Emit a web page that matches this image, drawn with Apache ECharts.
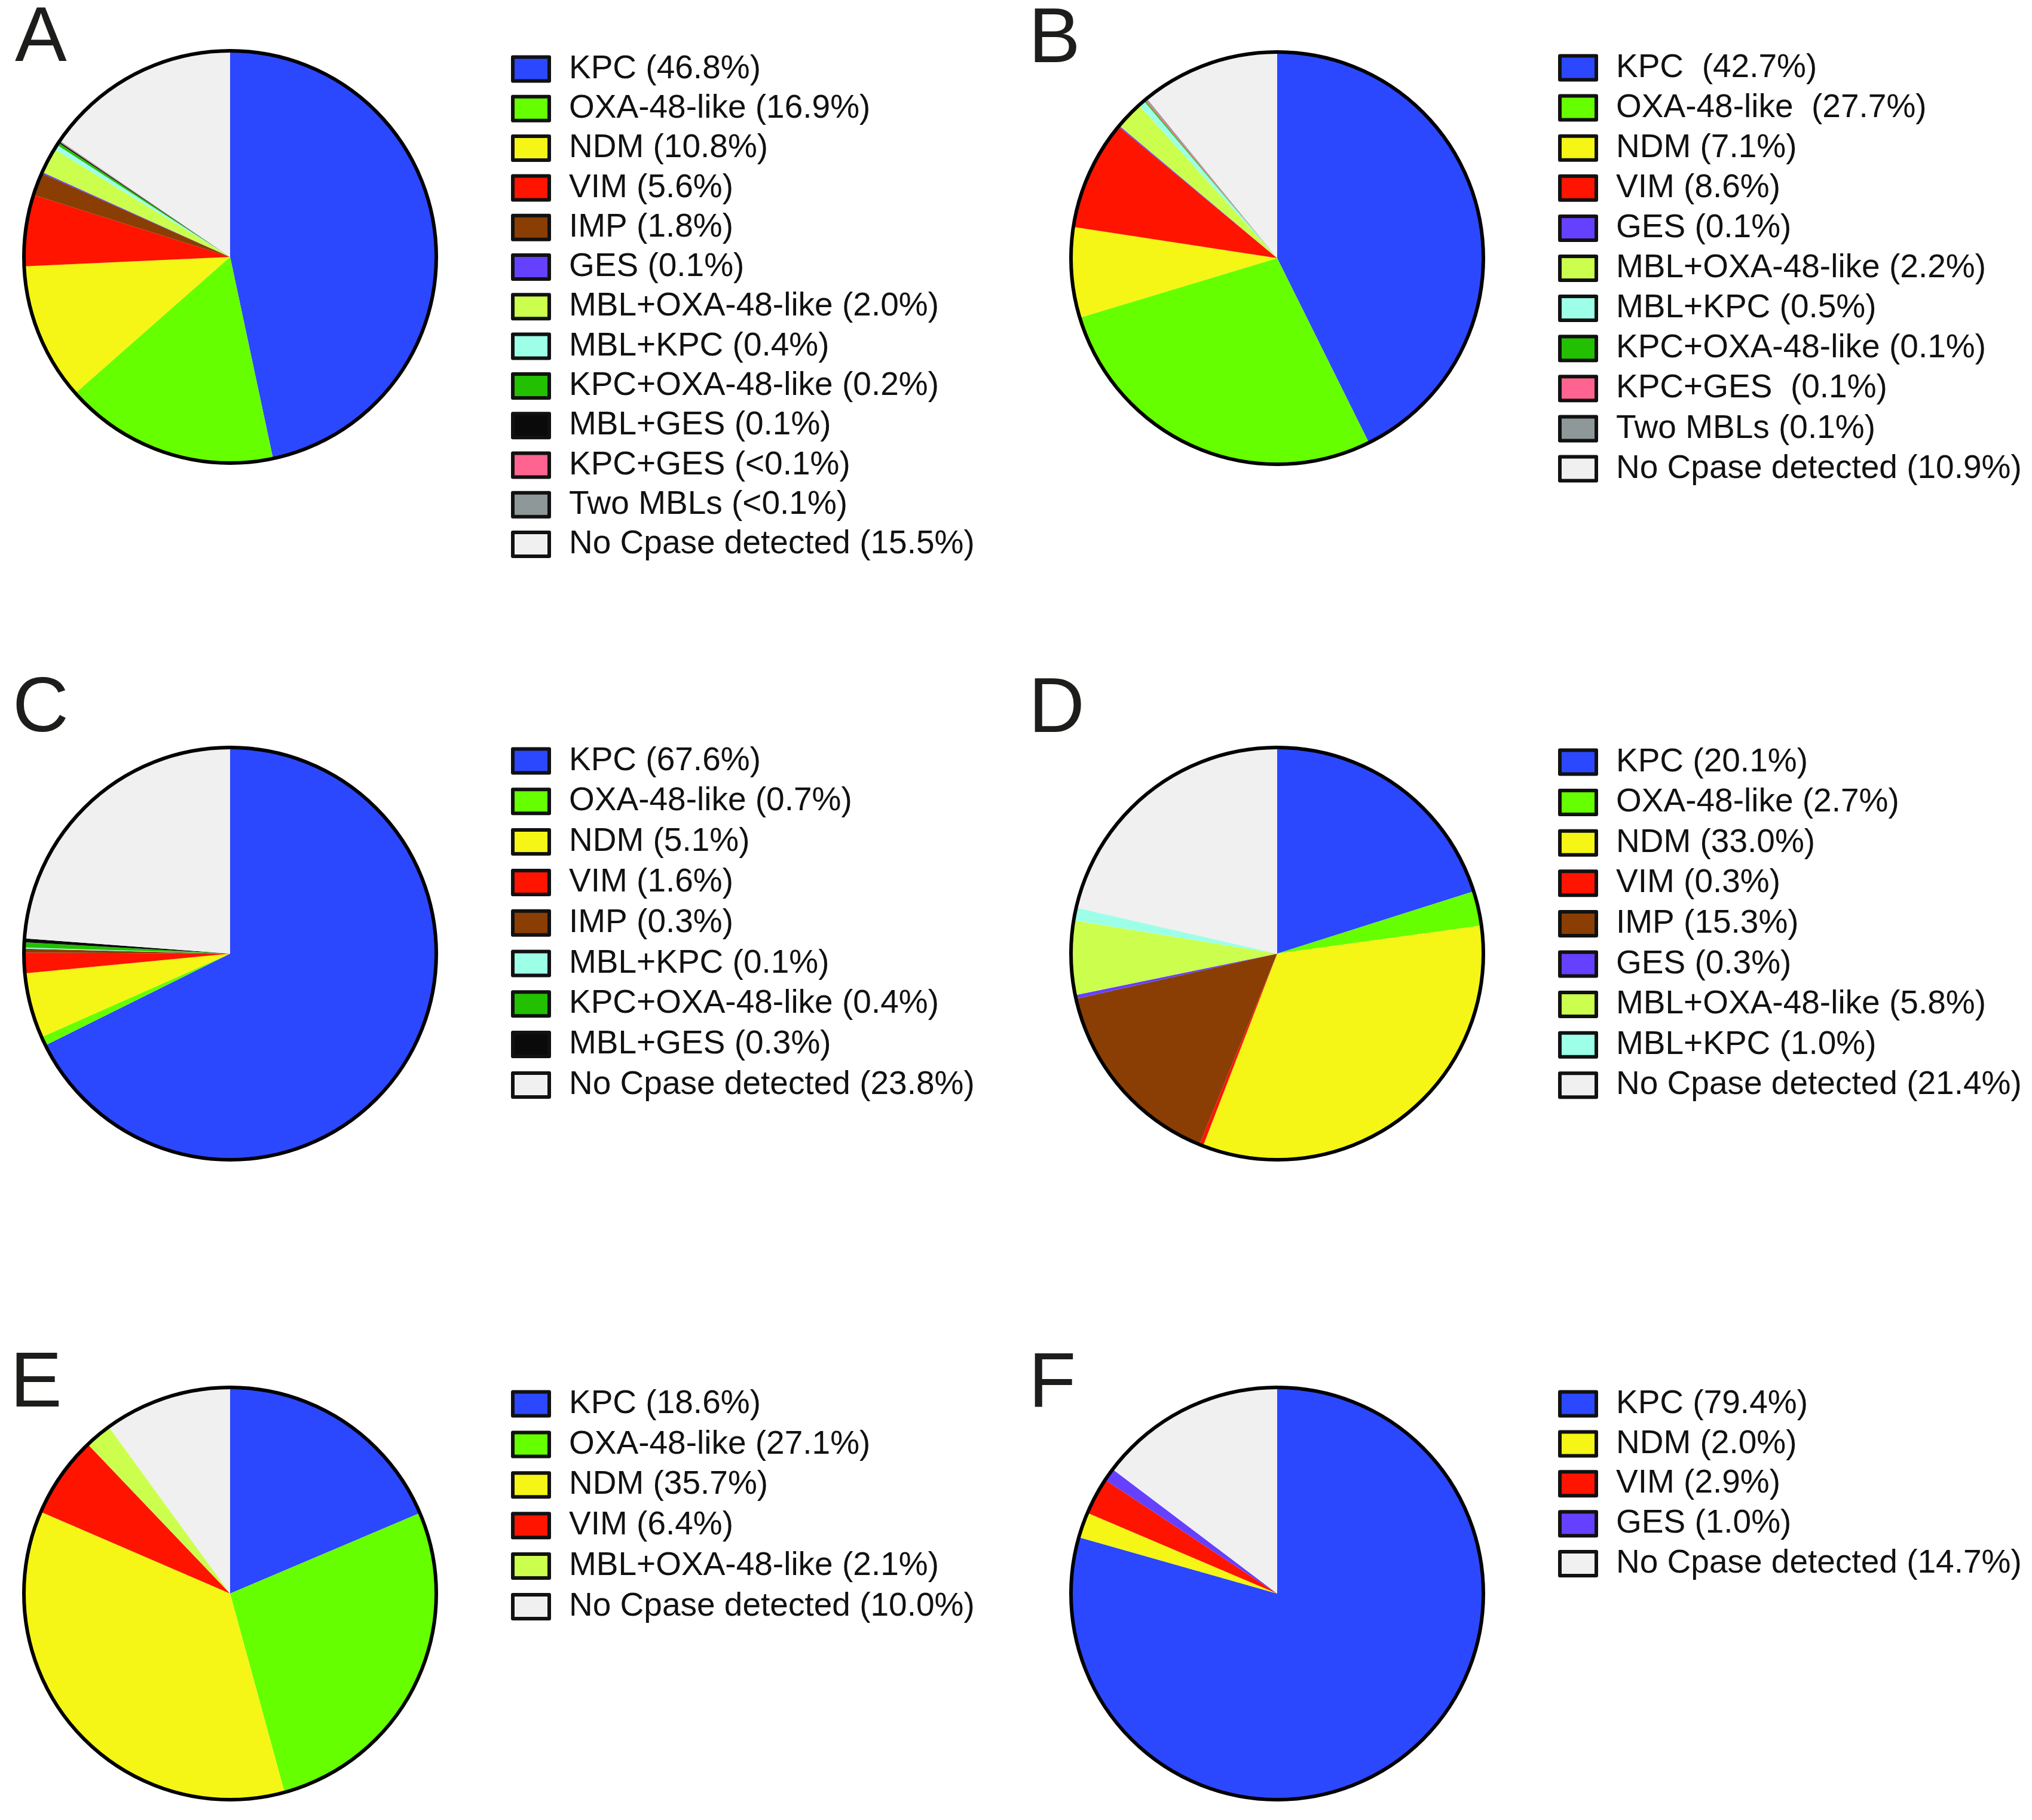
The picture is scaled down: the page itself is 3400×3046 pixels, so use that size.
<!DOCTYPE html>
<html><head><meta charset="utf-8">
<script src="https://cdn.jsdelivr.net/npm/echarts@6/dist/echarts.min.js"></script>
<style>html,body{margin:0;padding:0;background:#fff}#c{width:3400px;height:3046px}</style>
</head><body><div id="c"></div>
<script>
// ---- DATA ----
const catsA = ['KPC','OXA-48-like','NDM','VIM','IMP','GES','MBL+OXA-48-like','MBL+KPC','KPC+OXA-48-like','MBL+GES','KPC+GES','Two MBLs','No Cpase detected'];
const valsA = [46.8,16.9,10.8,5.6,1.8,0.1,2.0,0.4,0.2,0.1,0.05,0.05,15.5];
const labelsA = ['KPC (46.8%)','OXA-48-like (16.9%)','NDM (10.8%)','VIM (5.6%)','IMP (1.8%)','GES (0.1%)','MBL+OXA-48-like (2.0%)','MBL+KPC (0.4%)','KPC+OXA-48-like (0.2%)','MBL+GES (0.1%)','KPC+GES (<0.1%)','Two MBLs (<0.1%)','No Cpase detected (15.5%)'];

const catsB = ['KPC','OXA-48-like','NDM','VIM','GES','MBL+OXA-48-like','MBL+KPC','KPC+OXA-48-like','KPC+GES','Two MBLs','No Cpase detected'];
const valsB = [42.7,27.7,7.1,8.6,0.1,2.2,0.5,0.1,0.1,0.1,10.9];
const labelsB = ['KPC  (42.7%)','OXA-48-like  (27.7%)','NDM (7.1%)','VIM (8.6%)','GES (0.1%)','MBL+OXA-48-like (2.2%)','MBL+KPC (0.5%)','KPC+OXA-48-like (0.1%)','KPC+GES  (0.1%)','Two MBLs (0.1%)','No Cpase detected (10.9%)'];

const catsC = ['KPC','OXA-48-like','NDM','VIM','IMP','MBL+KPC','KPC+OXA-48-like','MBL+GES','No Cpase detected'];
const valsC = [67.6,0.7,5.1,1.6,0.3,0.1,0.4,0.3,23.8];
const labelsC = ['KPC (67.6%)','OXA-48-like (0.7%)','NDM (5.1%)','VIM (1.6%)','IMP (0.3%)','MBL+KPC (0.1%)','KPC+OXA-48-like (0.4%)','MBL+GES (0.3%)','No Cpase detected (23.8%)'];

const catsD = ['KPC','OXA-48-like','NDM','VIM','IMP','GES','MBL+OXA-48-like','MBL+KPC','No Cpase detected'];
const valsD = [20.1,2.7,33.0,0.3,15.3,0.3,5.8,1.0,21.4];
const labelsD = ['KPC (20.1%)','OXA-48-like (2.7%)','NDM (33.0%)','VIM (0.3%)','IMP (15.3%)','GES (0.3%)','MBL+OXA-48-like (5.8%)','MBL+KPC (1.0%)','No Cpase detected (21.4%)'];

const catsE = ['KPC','OXA-48-like','NDM','VIM','MBL+OXA-48-like','No Cpase detected'];
const valsE = [18.6,27.1,35.7,6.4,2.1,10.0];
const labelsE = ['KPC (18.6%)','OXA-48-like (27.1%)','NDM (35.7%)','VIM (6.4%)','MBL+OXA-48-like (2.1%)','No Cpase detected (10.0%)'];

const catsF = ['KPC','NDM','VIM','GES','No Cpase detected'];
const valsF = [79.4,2.0,2.9,1.0,14.7];
const labelsF = ['KPC (79.4%)','NDM (2.0%)','VIM (2.9%)','GES (1.0%)','No Cpase detected (14.7%)'];

const panelLetters = ['A','B','C','D','E','F'];

// ---- STYLE / LAYOUT ----
const colorMap = {
  'KPC':'#2b48ff','OXA-48-like':'#66ff00','NDM':'#f5f516','VIM':'#ff1400','IMP':'#8a3e03',
  'GES':'#6640ff','MBL+OXA-48-like':'#ccff4d','MBL+KPC':'#9effe8','KPC+OXA-48-like':'#22c000',
  'MBL+GES':'#0a0a0a','KPC+GES':'#ff6490','Two MBLs':'#8e9898','No Cpase detected':'#eff0ef'
};
const panels = [
  {cats:catsA, vals:valsA, labels:labelsA, center:[385,430],  legend:{left:855, top:88,  gap:11.3}, title:{left:25, top:1}},
  {cats:catsB, vals:valsB, labels:labelsB, center:[2137,432], legend:{left:2607,top:86,  gap:12.1}, title:{left:1721, top:3}},
  {cats:catsC, vals:valsC, labels:labelsC, center:[385,1596], legend:{left:855, top:1246,gap:12.8}, title:{left:21, top:1123}},
  {cats:catsD, vals:valsD, labels:labelsD, center:[2137,1596],legend:{left:2607,top:1248,gap:12.6}, title:{left:1721, top:1124}},
  {cats:catsE, vals:valsE, labels:labelsE, center:[385,2667], legend:{left:855, top:2322,gap:12.9}, title:{left:17, top:2253}},
  {cats:catsF, vals:valsF, labels:labelsF, center:[2137,2667],legend:{left:2607,top:2322,gap:11.9}, title:{left:1721, top:2253}}
];
const R = 345;
const FONT = "'Liberation Sans', Arial, Helvetica, sans-serif";

const series = [], legends = [], titles = [];
panels.forEach((p, i) => {
  series.push({
    type:'pie', name:'pie'+i, center:p.center, radius:[0,R], startAngle:90, clockwise:true,
    silent:true, animation:false, avoidLabelOverlap:false,
    label:{show:false}, labelLine:{show:false},
    emphasis:{disabled:true},
    data:p.cats.map((c,k)=>({name:p.labels[k], value:p.vals[k], itemStyle:{color:colorMap[c]}}))
  });
  series.push({
    type:'pie', name:'outline'+i, center:p.center, radius:[0,R], silent:true, animation:false,
    label:{show:false}, labelLine:{show:false}, emphasis:{disabled:true}, z:5,
    data:[{name:'__outline'+i, value:1, itemStyle:{color:'rgba(0,0,0,0)', borderColor:'#000', borderWidth:6}}]
  });
  legends.push({
    orient:'vertical', left:p.legend.left, top:p.legend.top, padding:0,
    itemWidth:61, itemHeight:40, itemGap:p.legend.gap, icon:'rect', selectedMode:false,
    itemStyle:{borderColor:'#111', borderWidth:6},
    textStyle:{fontSize:55, lineHeight:46, color:'#111', fontFamily:FONT, padding:[0,0,0,28]},
    data:p.labels
  });
  titles.push({
    text:panelLetters[i], left:p.title.left, top:p.title.top, padding:0,
    textStyle:{fontSize:130, lineHeight:130, fontWeight:'normal', color:'#1d1d1b', fontFamily:FONT}
  });
});

const chart = echarts.init(document.getElementById('c'), null, {renderer:'canvas'});
chart.setOption({backgroundColor:'#fff', animation:false, title:titles, legend:legends, series:series});
</script>
</body></html>
